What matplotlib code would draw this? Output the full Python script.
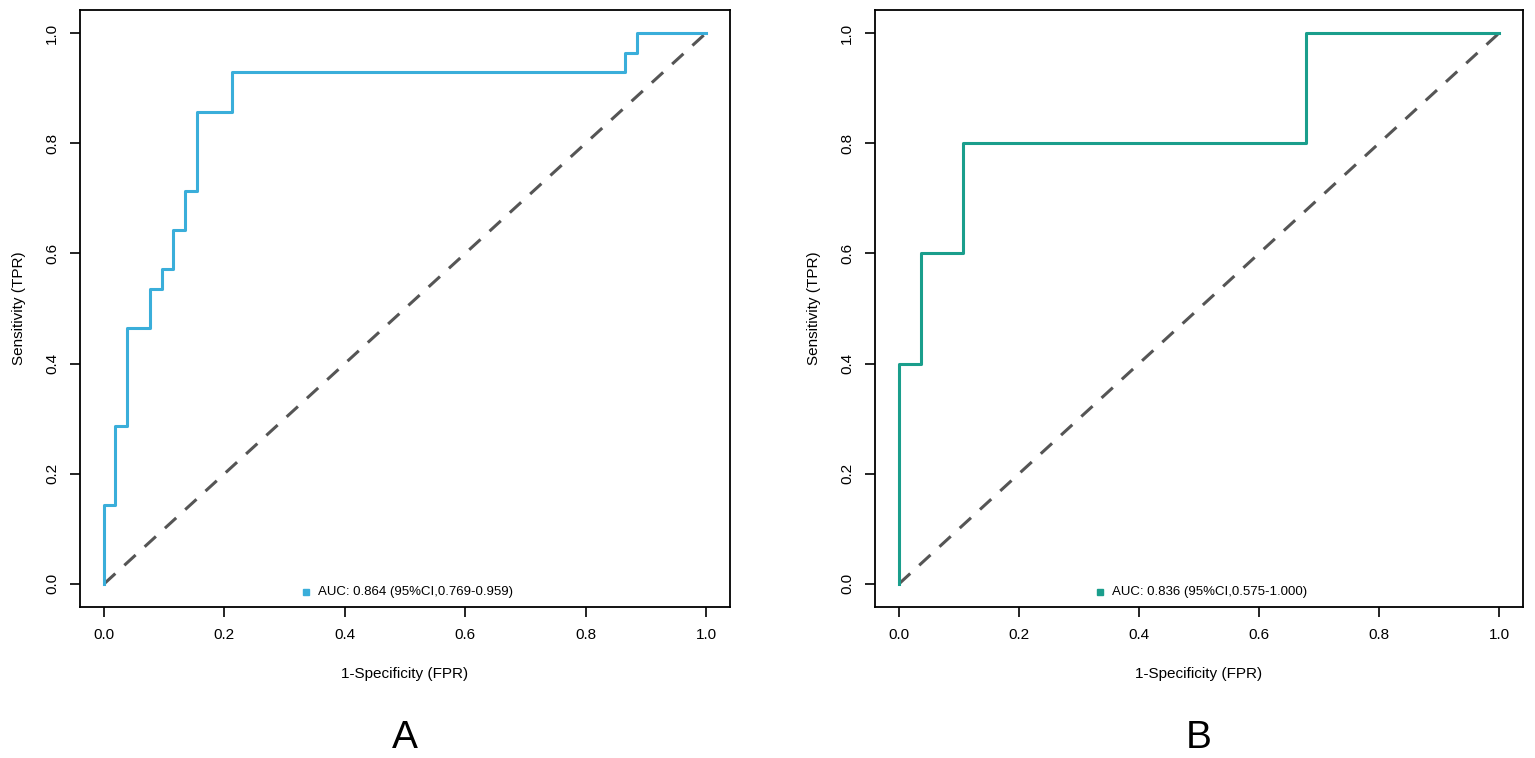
import matplotlib
matplotlib.use("Agg")
import matplotlib.pyplot as plt

plt.rcParams["font.family"] = ["Liberation Sans", "DejaVu Sans"]

# ── Curva ROC A (escalones) ──
fpr_a = [0.0, 0.0, 0.019, 0.019, 0.038, 0.038, 0.077, 0.077, 0.096, 0.096,
         0.115, 0.115, 0.135, 0.135, 0.154, 0.154, 0.212, 0.212, 0.865, 0.865,
         0.885, 0.885, 1.0]
tpr_a = [0.0, 0.143, 0.143, 0.286, 0.286, 0.464, 0.464, 0.536, 0.536, 0.571,
         0.571, 0.643, 0.643, 0.714, 0.714, 0.857, 0.857, 0.929, 0.929, 0.964,
         0.964, 1.0, 1.0]
label_a = "AUC: 0.864 (95%CI,0.769-0.959)"

# ── Curva ROC B ──
fpr_b = [0.0, 0.0, 0.036, 0.036, 0.107, 0.107, 0.679, 0.679, 1.0]
tpr_b = [0.0, 0.4, 0.4, 0.6, 0.6, 0.8, 0.8, 1.0, 1.0]
label_b = "AUC: 0.836 (95%CI,0.575-1.000)"

ticks = [0.0, 0.2, 0.4, 0.6, 0.8, 1.0]
tick_labels = ["0.0", "0.2", "0.4", "0.6", "0.8", "1.0"]

COLOR_A = "#3AAEDA"
COLOR_B = "#1A9E8C"


def roc_panel(fig, rect, fpr, tpr, color, label, letter):
    ax = fig.add_axes(rect)
    ax.plot([0, 1], [0, 1], color="#555555", lw=2.2, ls=(0, (5, 4)))
    ax.plot(fpr, tpr, color=color, lw=2.2)
    ax.set_xlim(-0.04, 1.04)
    ax.set_ylim(-0.042, 1.042)
    ax.set_xticks(ticks)
    ax.set_xticklabels(tick_labels)
    ax.set_yticks(ticks)
    ax.set_yticklabels(tick_labels, rotation=90, va="center")
    ax.tick_params(direction="out", length=7, width=1.2, labelsize=11, pad=8)
    for s in ax.spines.values():
        s.set_linewidth(1.3)
    ax.set_xlabel("1-Specificity (FPR)", fontsize=11, labelpad=18)
    ax.set_ylabel("Sensitivity (TPR)", fontsize=11, labelpad=14)
    # leyenda tipo R: cuadradito + texto
    ax.plot([0.335], [-0.015], marker="s", ms=5, color=color, ls="none")
    ax.text(0.355, -0.015, label, fontsize=9.5, va="center", ha="left")
    ax.text(0.5, -0.236, letter, transform=ax.transAxes, fontsize=28,
            ha="center", va="baseline")
    return ax


fig = plt.figure(figsize=(15.35, 7.58), dpi=100)
roc_panel(fig, [0.0521, 0.1992, 0.4235, 0.7876], fpr_a, tpr_a, COLOR_A, label_a, "A")
roc_panel(fig, [0.5700, 0.1992, 0.4222, 0.7876], fpr_b, tpr_b, COLOR_B, label_b, "B")

fig.savefig("out.png", dpi=100)
